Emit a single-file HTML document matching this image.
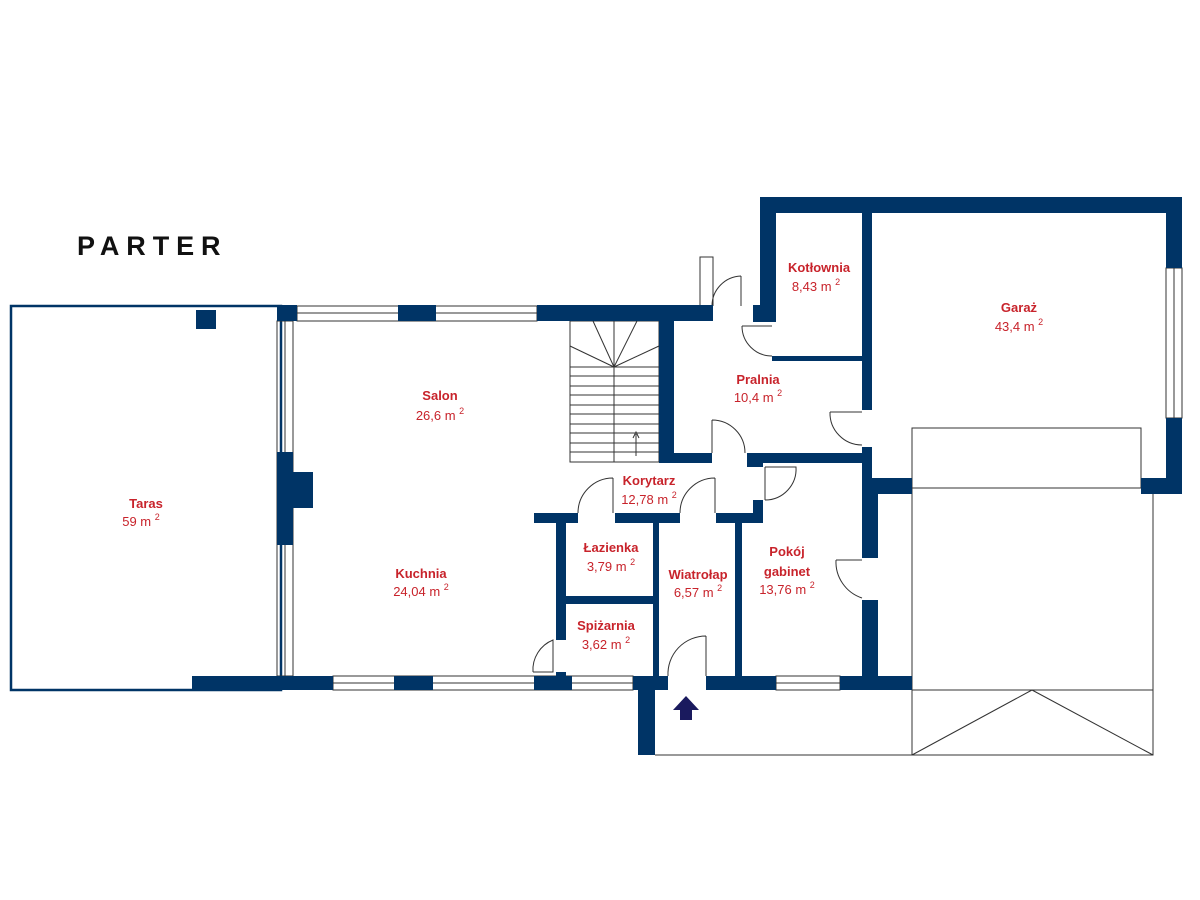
<!DOCTYPE html>
<html><head><meta charset="utf-8"><style>
html,body{margin:0;padding:0;background:#fff;}
svg{display:block;}
.w{fill:#003466;}
.t{stroke:#333;stroke-width:1;fill:none;}
.n{font-family:"Liberation Sans",sans-serif;font-weight:bold;font-size:13px;fill:#c8232b;text-anchor:middle;}
.a{font-family:"Liberation Sans",sans-serif;font-size:13px;fill:#c8232b;text-anchor:middle;}
.s{font-size:9px;}
</style></head><body>
<svg width="1200" height="900" viewBox="0 0 1200 900" xmlns="http://www.w3.org/2000/svg">
<rect width="1200" height="900" fill="#fff"/>
<text x="77" y="255" font-family="Liberation Sans,sans-serif" font-weight="bold" font-size="27" letter-spacing="6.9" fill="#111">PARTER</text>

<rect x="11" y="306" width="270" height="384" fill="none" stroke="#003466" stroke-width="2.5"/>
<rect class="w" x="196" y="310" width="20" height="19"/>

<g class="t">
<rect x="297" y="306" width="240" height="15"/><line x1="297" y1="313" x2="537" y2="313"/>
<rect x="277" y="321" width="16" height="355"/><line x1="285" y1="321" x2="285" y2="676"/>
<rect x="333" y="676" width="300" height="14"/><line x1="333" y1="683" x2="633" y2="683"/>
<rect x="776" y="676" width="64" height="14"/><line x1="776" y1="683" x2="840" y2="683"/>
<rect x="1166" y="268" width="16" height="150"/><line x1="1174" y1="268" x2="1174" y2="418"/>
<polyline points="700,306 700,257 713,257 713,306"/>
<rect x="912" y="428" width="229" height="60"/>
<polyline points="912,488 912,690 1153,690 1153,494"/>
<polyline points="912,690 912,755 1153,755 1153,690"/>
<polyline points="912,755 1032,690 1153,755"/>
<line x1="655" y1="755" x2="912" y2="755"/>
<rect x="570" y="321" width="89" height="141"/>
<line x1="614" y1="321" x2="614" y2="462"/>
<line x1="570" y1="367" x2="659" y2="367"/>
<line x1="570" y1="346" x2="614" y2="367"/><line x1="593" y1="321" x2="614" y2="367"/>
<line x1="637" y1="321" x2="614" y2="367"/><line x1="659" y1="346" x2="614" y2="367"/>
<line x1="570" y1="376" x2="659" y2="376"/><line x1="570" y1="386" x2="659" y2="386"/>
<line x1="570" y1="395" x2="659" y2="395"/><line x1="570" y1="405" x2="659" y2="405"/>
<line x1="570" y1="414" x2="659" y2="414"/><line x1="570" y1="424" x2="659" y2="424"/>
<line x1="570" y1="433" x2="659" y2="433"/><line x1="570" y1="443" x2="659" y2="443"/>
<line x1="570" y1="452" x2="659" y2="452"/>
<line x1="636" y1="456" x2="636" y2="434"/>
<polyline points="633,438 636,432 639,438"/>
<path d="M741,276 L741,306 M741,276 A30,30 0 0 0 712,306"/>
<path d="M742,326 L772,326 M742,326 A30,30 0 0 0 772,356"/>
<path d="M830,412 L862,412 M830,412 A32,32 0 0 0 862,445"/>
<path d="M712,420 L712,453 M712,420 A33,33 0 0 1 745,453"/>
<path d="M765,467 L765,500 M765,467 L796,467 A31,31 0 0 1 765,500"/>
<path d="M613,478 L613,513 M613,478 A35,35 0 0 0 578,513"/>
<path d="M715,478 L715,513 M715,478 A35,35 0 0 0 680,513"/>
<path d="M533,672 L553,672 L553,640 A32,32 0 0 0 533,672"/>
<path d="M706,636 L706,676 M706,636 A38,38 0 0 0 668,676"/>
<path d="M836,560 L862,560 M836,560 A38,38 0 0 0 862,598"/>
</g>

<g class="w">
<rect x="277" y="305" width="20" height="16"/>
<rect x="398" y="305" width="38" height="16"/>
<rect x="537" y="305" width="176" height="16"/>
<rect x="753" y="305" width="23" height="17"/>
<rect x="760" y="197" width="422" height="16"/>
<rect x="760" y="197" width="16" height="125"/>
<rect x="1166" y="197" width="16" height="71"/>
<rect x="1166" y="418" width="16" height="76"/>
<rect x="1141" y="478" width="41" height="16"/>
<rect x="862" y="213" width="10" height="197"/>
<rect x="862" y="447" width="10" height="31"/>
<rect x="862" y="478" width="50" height="16"/>
<rect x="772" y="356" width="90" height="5"/>
<rect x="659" y="321" width="15" height="142"/>
<rect x="659" y="453" width="53" height="10"/>
<rect x="747" y="453" width="115" height="10"/>
<rect x="747" y="453" width="16" height="14"/>
<rect x="862" y="494" width="16" height="64"/>
<rect x="862" y="600" width="16" height="90"/>
<rect x="840" y="676" width="72" height="14"/>
<rect x="277" y="452" width="16" height="93"/>
<rect x="293" y="472" width="20" height="36"/>
<rect x="192" y="676" width="141" height="14"/>
<rect x="394" y="676" width="39" height="14"/>
<rect x="534" y="676" width="38" height="14"/>
<rect x="633" y="676" width="35" height="14"/>
<rect x="638" y="676" width="17" height="79"/>
<rect x="706" y="676" width="70" height="14"/>
<rect x="534" y="513" width="44" height="10"/>
<rect x="615" y="513" width="65" height="10"/>
<rect x="716" y="513" width="47" height="10"/>
<rect x="753" y="500" width="10" height="23"/>
<rect x="556" y="513" width="10" height="127"/>
<rect x="556" y="672" width="10" height="6"/>
<rect x="653" y="513" width="6" height="163"/>
<rect x="566" y="596" width="90" height="8"/>
<rect x="735" y="513" width="7" height="163"/>
</g>
<polygon points="686,696 699,710 692,710 692,720 680,720 680,710 673,710" fill="#1a1a5e"/>

<text class="n" x="146" y="508">Taras</text><text class="a" x="141" y="526">59 m <tspan class="s" dy="-6">2</tspan></text>
<text class="n" x="440" y="400">Salon</text><text class="a" x="440" y="420">26,6 m <tspan class="s" dy="-6">2</tspan></text>
<text class="n" x="421" y="578">Kuchnia</text><text class="a" x="421" y="596">24,04 m <tspan class="s" dy="-6">2</tspan></text>
<text class="n" x="819" y="272">Kotłownia</text><text class="a" x="816" y="291">8,43 m <tspan class="s" dy="-6">2</tspan></text>
<text class="n" x="1019" y="312">Garaż</text><text class="a" x="1019" y="331">43,4 m <tspan class="s" dy="-6">2</tspan></text>
<text class="n" x="758" y="384">Pralnia</text><text class="a" x="758" y="402">10,4 m <tspan class="s" dy="-6">2</tspan></text>
<text class="n" x="649" y="485">Korytarz</text><text class="a" x="649" y="504">12,78 m <tspan class="s" dy="-6">2</tspan></text>
<text class="n" x="611" y="552">Łazienka</text><text class="a" x="611" y="571">3,79 m <tspan class="s" dy="-6">2</tspan></text>
<text class="n" x="606" y="630">Spiżarnia</text><text class="a" x="606" y="649">3,62 m <tspan class="s" dy="-6">2</tspan></text>
<text class="n" x="698" y="579">Wiatrołap</text><text class="a" x="698" y="597">6,57 m <tspan class="s" dy="-6">2</tspan></text>
<text class="n" x="787" y="556">Pokój</text><text class="n" x="787" y="576">gabinet</text><text class="a" x="787" y="594">13,76 m <tspan class="s" dy="-6">2</tspan></text>
</svg>
</body></html>
